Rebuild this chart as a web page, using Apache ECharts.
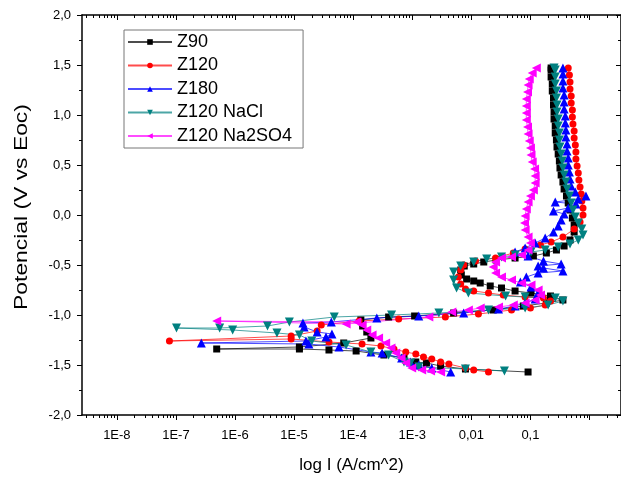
<!DOCTYPE html>
<html><head><meta charset="utf-8">
<script src="https://cdn.jsdelivr.net/npm/echarts@6/dist/echarts.min.js"></script>
<style>html,body{margin:0;padding:0;background:#fff}#c{width:621px;height:482px}</style>
</head><body><div id="c"></div>
<script>
// x values are log10(I / (A/cm^2)), y values are potential (V vs Eoc)
const z90LogI = [-1.04,-2.10,-2.52,-2.76,-2.94,-3.14,-3.48,-3.95,-4.41,-4.91,-6.31,-4.91,-4.16,-3.70,-3.77,-3.84,-3.87,-3.40,-2.96,-2.30,-1.63,-1.12,-0.73,-0.45,-0.66,-0.99,-1.26,-1.49,-1.68,-1.85,-1.96,-2.08,-2.17,-2.18,-2.12,-1.96,-1.79,-1.58,-1.26,-0.95,-0.73,-0.56,-0.43,-0.33,-0.26,-0.26,-0.29,-0.33,-0.36,-0.39,-0.43,-0.45,-0.48,-0.50,-0.51,-0.53,-0.55,-0.56,-0.58,-0.58,-0.60,-0.60,-0.61,-0.61,-0.63,-0.63,-0.65,-0.65,-0.65];
const z90E    = [-1.57,-1.54,-1.51,-1.48,-1.47,-1.43,-1.40,-1.36,-1.35,-1.34,-1.34,-1.32,-1.28,-1.23,-1.17,-1.11,-1.05,-1.02,-1.01,-0.98,-0.95,-0.91,-0.88,-0.85,-0.81,-0.78,-0.76,-0.73,-0.71,-0.68,-0.66,-0.64,-0.60,-0.55,-0.51,-0.49,-0.47,-0.45,-0.43,-0.41,-0.38,-0.35,-0.31,-0.25,-0.17,-0.10,-0.03,0.05,0.12,0.19,0.26,0.33,0.40,0.47,0.54,0.61,0.68,0.75,0.82,0.89,0.96,1.03,1.10,1.17,1.24,1.31,1.38,1.45,1.47];

const z120LogI = [-1.71,-1.96,-2.10,-2.38,-2.52,-2.67,-2.81,-2.94,-3.11,-3.31,-3.53,-3.85,-4.41,-5.05,-7.11,-5.05,-4.61,-4.54,-3.90,-3.23,-2.44,-1.88,-1.32,-1.00,-0.75,-0.66,-0.78,-1.09,-1.46,-1.71,-1.96,-2.10,-2.18,-2.22,-2.18,-2.13,-1.93,-1.59,-1.29,-1.09,-0.83,-0.65,-0.45,-0.26,-0.16,-0.11,-0.11,-0.13,-0.14,-0.16,-0.18,-0.19,-0.21,-0.23,-0.23,-0.24,-0.26,-0.26,-0.28,-0.29,-0.29,-0.31,-0.31,-0.33,-0.33,-0.34,-0.36];
const z120E    = [-1.57,-1.55,-1.53,-1.49,-1.47,-1.44,-1.42,-1.39,-1.37,-1.34,-1.31,-1.29,-1.27,-1.24,-1.26,-1.21,-1.16,-1.10,-1.06,-1.04,-1.02,-0.99,-0.95,-0.93,-0.90,-0.86,-0.83,-0.82,-0.80,-0.78,-0.76,-0.74,-0.69,-0.62,-0.55,-0.50,-0.46,-0.43,-0.38,-0.34,-0.30,-0.27,-0.22,-0.14,-0.07,0.00,0.07,0.14,0.21,0.28,0.35,0.42,0.49,0.56,0.63,0.70,0.77,0.84,0.91,0.98,1.05,1.12,1.19,1.26,1.33,1.40,1.47];

const z180LogI = [-2.35,-2.67,-2.89,-3.03,-3.18,-3.51,-3.70,-4.24,-4.75,-6.57,-4.80,-4.46,-4.36,-4.61,-4.83,-4.85,-4.37,-3.60,-2.89,-2.13,-1.54,-1.26,-1.09,-0.92,-0.87,-0.99,-1.17,-1.07,-0.87,-0.45,-0.78,-0.87,-0.48,-0.78,-1.04,-1.26,-1.09,-0.92,-0.75,-0.61,-0.53,-0.48,-0.43,-0.61,-0.36,-0.23,-0.58,-0.19,-0.06,-0.24,-0.31,-0.33,-0.34,-0.36,-0.36,-0.38,-0.38,-0.40,-0.40,-0.41,-0.41,-0.43,-0.43,-0.43,-0.45,-0.45,-0.45,-0.45];
const z180E    = [-1.57,-1.53,-1.50,-1.47,-1.43,-1.38,-1.37,-1.32,-1.29,-1.28,-1.26,-1.22,-1.19,-1.17,-1.12,-1.08,-1.07,-1.03,-1.01,-0.98,-0.94,-0.91,-0.88,-0.84,-0.78,-0.72,-0.67,-0.62,-0.58,-0.56,-0.53,-0.51,-0.49,-0.46,-0.41,-0.37,-0.33,-0.28,-0.23,-0.17,-0.11,-0.05,0.01,0.04,0.07,0.11,0.13,0.16,0.19,0.23,0.29,0.36,0.43,0.50,0.57,0.64,0.71,0.78,0.85,0.92,0.99,1.06,1.13,1.20,1.27,1.34,1.41,1.47];

const naclLogI = [-1.44,-2.10,-2.89,-3.03,-3.14,-3.40,-3.70,-4.12,-4.70,-4.91,-5.29,-6.04,-6.99,-6.26,-5.45,-5.08,-4.32,-3.35,-2.55,-1.71,-1.09,-0.70,-0.45,-0.58,-1.09,-1.42,-2.05,-2.25,-2.30,-2.30,-2.18,-1.96,-1.74,-1.49,-1.26,-0.99,-0.75,-0.53,-0.33,-0.19,-0.11,-0.13,-0.19,-0.24,-0.28,-0.31,-0.34,-0.38,-0.40,-0.43,-0.45,-0.46,-0.48,-0.50,-0.51,-0.51,-0.53,-0.53,-0.55,-0.55,-0.56,-0.56,-0.58,-0.58,-0.58,-0.60];
const naclE    = [-1.56,-1.54,-1.52,-1.48,-1.47,-1.40,-1.37,-1.30,-1.26,-1.20,-1.18,-1.15,-1.13,-1.13,-1.11,-1.07,-1.02,-1.00,-0.98,-0.95,-0.93,-0.90,-0.86,-0.83,-0.82,-0.81,-0.78,-0.73,-0.65,-0.57,-0.51,-0.47,-0.44,-0.42,-0.40,-0.37,-0.35,-0.32,-0.29,-0.25,-0.20,-0.14,-0.08,-0.02,0.05,0.12,0.19,0.26,0.33,0.40,0.47,0.54,0.61,0.68,0.75,0.82,0.89,0.96,1.03,1.10,1.17,1.24,1.31,1.38,1.45,1.47];

const na2so4LogI = [-2.52,-2.69,-2.84,-3.01,-3.11,-3.19,-3.28,-3.36,-3.45,-3.57,-3.68,-3.77,-3.85,-3.94,-6.31,-4.12,-2.72,-2.33,-2.05,-1.85,-1.54,-1.29,-1.09,-0.92,-0.83,-0.87,-0.99,-1.15,-1.32,-1.49,-1.59,-1.63,-1.59,-1.49,-1.32,-1.15,-1.04,-1.00,-1.04,-1.09,-1.10,-1.09,-1.07,-1.04,-1.00,-0.95,-0.92,-0.92,-0.93,-0.97,-0.99,-1.00,-1.02,-1.04,-1.05,-1.07,-1.07,-1.07,-1.07,-1.05,-1.04,-1.02,-0.97,-0.90];
const na2so4E    = [-1.57,-1.56,-1.55,-1.53,-1.48,-1.43,-1.38,-1.33,-1.28,-1.23,-1.20,-1.15,-1.10,-1.07,-1.06,-1.09,-1.02,-0.97,-0.95,-0.93,-0.92,-0.90,-0.88,-0.85,-0.80,-0.75,-0.70,-0.68,-0.65,-0.62,-0.58,-0.52,-0.47,-0.43,-0.42,-0.40,-0.35,-0.28,-0.22,-0.15,-0.08,-0.01,0.06,0.13,0.19,0.25,0.32,0.39,0.46,0.53,0.60,0.67,0.74,0.81,0.88,0.95,1.02,1.09,1.16,1.23,1.30,1.36,1.42,1.47];

const seriesNames = ['Z90','Z120','Z180','Z120 NaCl','Z120 Na2SO4'];
const xTickValues = [-8,-7,-6,-5,-4,-3,-2,-1];
const xTickLabels = ['1E-8','1E-7','1E-6','1E-5','1E-4','1E-3','0,01','0,1'];
const xMajorTicks = [-8,-7,-6,-5,-4,-3,-2,-1,0];
const xTitle = 'log I (A/cm^2)';
const yTitle = 'Potencial (V vs Eoc)';

const xMin = -8.59, xMax = 0.533;
const xMinor = [];
for (let n = -9; n <= 0; n++) for (let k = 2; k <= 9; k++) {
  const v = n + Math.log10(k);
  if (v > xMin && v < xMax) xMinor.push(v);
}
function pairs(a, b) { return a.map((v, i) => [v, b[i]]); }

const FONT = 'Liberation Sans, Arial, sans-serif';
const baseX = { type: 'value', min: xMin, max: xMax, gridIndex: 0, splitLine: { show: false } };

const chart = echarts.init(document.getElementById('c'), null, { renderer: 'canvas' });
const mk = (name, lx, e, color, symbol, size, rot) => ({
  name, type: 'line', data: pairs(lx, e), symbol, symbolSize: size, symbolRotate: rot || 0,
  showSymbol: true, showAllSymbol: true,
  itemStyle: { color }, lineStyle: { color, width: 1, opacity: 0.7 },
  emphasis: { disabled: true }, animation: false, clip: true
});
chart.setOption({
  animation: false,
  backgroundColor: '#ffffff',
  textStyle: { fontFamily: FONT },
  grid: { left: 82, top: 15, right: -2, bottom: 67, containLabel: false },
  legend: {
    orient: 'vertical', left: 124, top: 30,
    padding: [3, 11, 3, 3], itemWidth: 44, itemHeight: 7, itemGap: 5.5,
    borderColor: '#777', borderWidth: 1, backgroundColor: '#fff',
    textStyle: { fontSize: 18, color: '#000', fontFamily: FONT },
    data: seriesNames
  },
  graphic: [{
    type: 'text', x: 22, y: 207, rotation: Math.PI / 2, scaleX: 1.27, scaleY: 1,
    style: { text: yTitle, fontSize: 18, fontFamily: FONT, fill: '#000',
      align: 'center', verticalAlign: 'middle', textAlign: 'center', textVerticalAlign: 'middle' }
  }],
  xAxis: [
    Object.assign({}, baseX, {
      position: 'bottom',
      name: xTitle, nameLocation: 'middle', nameGap: 42,
      nameTextStyle: { fontSize: 17, color: '#000', fontFamily: FONT },
      axisLine: { show: true, onZero: false, lineStyle: { color: '#000', width: 1.5 } },
      axisTick: { show: true, inside: false, length: 5, customValues: xMajorTicks, lineStyle: { color: '#000', width: 1 } },
      axisLabel: { show: true, customValues: xTickValues, margin: 14, fontSize: 13, color: '#000', fontFamily: FONT,
        formatter: v => { const i = xTickValues.findIndex(t => Math.abs(t - v) < 1e-6); return i >= 0 ? xTickLabels[i] : ''; } }
    }),
    Object.assign({}, baseX, {
      position: 'bottom',
      axisLine: { show: false, onZero: false },
      axisTick: { show: true, inside: false, length: 3, customValues: xMinor, lineStyle: { color: '#000', width: 1 } },
      axisLabel: { show: false, customValues: xMinor }
    }),
    Object.assign({}, baseX, {
      position: 'top',
      axisLine: { show: true, onZero: false, lineStyle: { color: '#000', width: 1.5 } },
      axisTick: { show: true, inside: true, length: 5, customValues: xMajorTicks, lineStyle: { color: '#000', width: 1 } },
      axisLabel: { show: false, customValues: xMajorTicks }
    }),
    Object.assign({}, baseX, {
      position: 'top',
      axisLine: { show: false, onZero: false },
      axisTick: { show: true, inside: true, length: 3, customValues: xMinor, lineStyle: { color: '#000', width: 1 } },
      axisLabel: { show: false, customValues: xMinor }
    })
  ],
  yAxis: [
    {
      type: 'value', min: -2, max: 2, interval: 0.5, position: 'left',
      axisLine: { show: true, onZero: false, lineStyle: { color: '#000', width: 1.5 } },
      axisTick: { show: true, inside: false, length: 5, lineStyle: { color: '#000', width: 1 } },
      minorTick: { show: true, splitNumber: 2, length: 3, lineStyle: { color: '#000', width: 1 } },
      axisLabel: { margin: 11, fontSize: 13, color: '#000', fontFamily: FONT, formatter: v => v.toFixed(1).replace('.', ',') },
      splitLine: { show: false }, minorSplitLine: { show: false }
    },
    {
      type: 'value', min: -2, max: 2, interval: 0.5, position: 'right',
      axisLine: { show: true, onZero: false, lineStyle: { color: '#000', width: 1.5 } },
      axisTick: { show: true, inside: true, length: 5, lineStyle: { color: '#000', width: 1 } },
      minorTick: { show: true, splitNumber: 2, length: 3, lineStyle: { color: '#000', width: 1 } },
      axisLabel: { show: false }, splitLine: { show: false }
    }
  ],
  series: [
    mk('Z90', z90LogI, z90E, '#000000', 'rect', 7),
    mk('Z120', z120LogI, z120E, '#ff0000', 'circle', 7),
    mk('Z180', z180LogI, z180E, '#0000ff', 'triangle', 9),
    mk('Z120 NaCl', naclLogI, naclE, '#008080', 'triangle', 9, 180),
    mk('Z120 Na2SO4', na2so4LogI, na2so4E, '#ff00ff', 'triangle', 9, 90)
  ]
});
</script>
</body></html>
